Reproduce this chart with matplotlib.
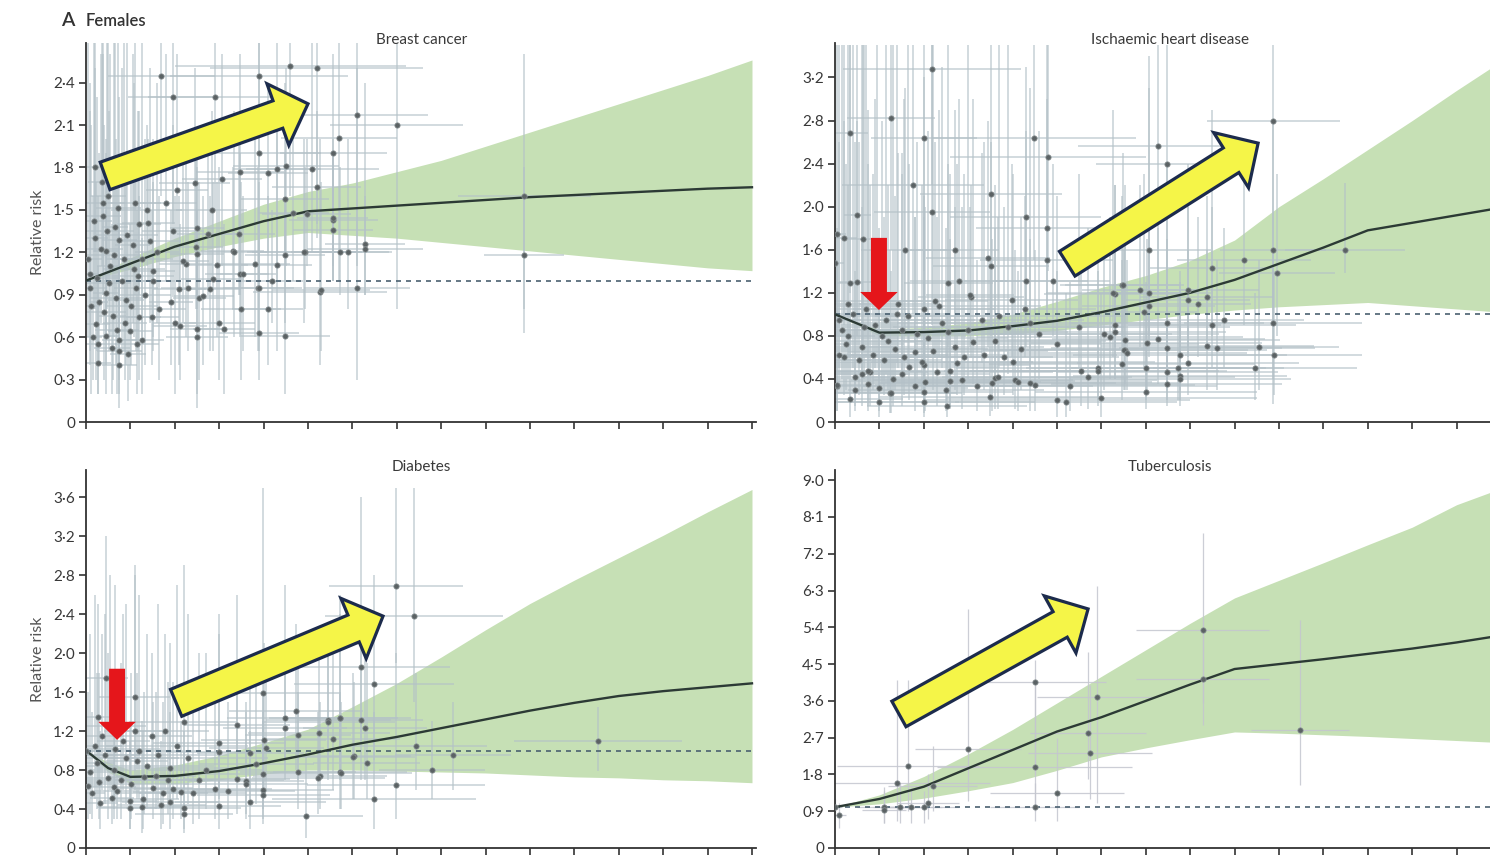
import numpy as np
import matplotlib
matplotlib.use("Agg")
import matplotlib.pyplot as plt
from matplotlib.patches import FancyArrowPatch, ArrowStyle

plt.rcParams['font.family'] = ['Lato', 'DejaVu Sans']

# study estimates: x, relative risk, x half-width, lower CI, upper CI
bc_rows = [
    (0.39, 1.46, 0.4, 0.9, 2.6), (0.73, 1.51, 0.5, 1.0, 2.7), (1.10, 1.55, 0.6, 0.9, 2.7),
    (1.37, 1.50, 0.8, 1.1, 2.1), (1.70, 2.45, 1.2, 1.6, 2.7), (1.95, 2.30, 1.0, 1.4, 2.7),
    (2.90, 2.30, 1.5, 1.5, 2.7), (3.90, 2.45, 2.0, 1.8, 2.7), (4.60, 2.52, 2.6, 1.6, 2.7),
    (5.20, 2.50, 2.4, 1.4, 2.7), (6.10, 2.17, 1.6, 1.1, 2.7), (7.00, 2.10, 1.5, 0.8, 2.7),
    (5.70, 2.01, 1.3, 1.0, 2.7), (5.57, 1.90, 1.2, 1.0, 2.6), (3.90, 1.90, 1.4, 1.0, 2.7),
    (3.47, 1.77, 1.0, 0.9, 2.6), (5.10, 1.79, 1.5, 1.2, 2.7), (4.50, 1.81, 1.2, 1.1, 2.5),
    (4.30, 1.79, 1.0, 1.0, 2.7), (4.10, 1.76, 0.9, 1.2, 2.4), (3.06, 1.72, 0.9, 1.1, 2.6),
    (5.20, 1.66, 1.0, 1.3, 2.2), (2.45, 1.69, 0.8, 1.2, 2.5), (2.05, 1.64, 0.7, 1.0, 2.6),
    (0.45, 1.21, 0.3, 0.6, 1.9), (2.83, 1.50, 0.8, 1.0, 2.2), (4.48, 1.58, 1.0, 1.2, 2.4),
    (5.57, 1.43, 1.0, 1.1, 1.9), (5.57, 1.36, 0.9, 1.0, 1.9), (4.97, 1.47, 1.0, 1.1, 2.0),
    (4.67, 1.48, 0.8, 1.0, 2.1), (4.93, 1.20, 1.2, 0.8, 1.8), (5.72, 1.20, 1.1, 0.9, 1.8),
    (5.90, 1.20, 1.0, 0.8, 2.0), (6.28, 1.26, 0.9, 0.9, 2.4), (6.28, 1.22, 1.3, 0.9, 1.6),
    (4.48, 1.18, 0.9, 0.7, 1.9), (4.30, 1.11, 0.8, 0.5, 2.2), (3.80, 1.12, 0.8, 0.6, 2.0),
    (4.19, 1.00, 0.7, 0.7, 1.5), (3.87, 0.95, 1.0, 0.5, 1.8), (5.27, 0.92, 1.5, 0.4, 2.0),
    (6.10, 0.95, 1.2, 0.3, 2.5), (3.30, 1.21, 0.7, 0.8, 1.8), (1.40, 1.41, 0.6, 1.0, 2.0),
    (1.95, 1.35, 0.7, 0.9, 2.1), (2.50, 1.37, 0.6, 0.9, 1.9), (3.45, 1.33, 0.8, 0.9, 2.0),
    (2.75, 1.33, 0.7, 0.9, 2.1), (2.50, 1.19, 0.6, 0.8, 1.8), (2.25, 1.12, 0.6, 0.6, 2.0),
    (2.95, 1.11, 0.7, 0.6, 1.7), (3.47, 1.05, 0.8, 0.6, 1.9), (1.50, 1.00, 0.5, 0.5, 1.7),
    (2.10, 0.94, 0.6, 0.4, 1.6), (2.55, 0.88, 0.6, 0.3, 1.7), (5.29, 0.93, 1.1, 0.5, 1.7),
    (4.49, 0.61, 1.0, 0.2, 1.5), (3.89, 0.63, 0.9, 0.3, 1.4), (4.09, 0.80, 0.8, 0.4, 1.6),
    (3.49, 0.80, 0.9, 0.3, 1.7), (3.89, 0.95, 0.8, 0.5, 1.7), (4.92, 1.20, 1.3, 0.7, 2.0),
    (3.33, 1.20, 0.8, 0.6, 2.2), (3.53, 1.05, 0.6, 0.5, 1.6), (3.10, 0.66, 0.7, 0.2, 1.4),
    (3.00, 0.70, 0.8, 0.3, 1.8), (2.50, 0.66, 0.6, 0.1, 1.5), (2.50, 0.60, 0.7, 0.2, 1.3),
    (2.12, 0.68, 0.6, 0.3, 1.4), (2.00, 0.70, 0.5, 0.2, 1.6), (1.26, 0.58, 0.5, 0.2, 1.3),
    (0.75, 0.40, 0.4, 0.1, 1.2), (0.26, 0.42, 0.3, 0.2, 1.1), (0.75, 0.50, 0.5, 0.2, 1.5),
    (0.75, 0.58, 0.4, 0.3, 1.4), (1.20, 0.74, 0.5, 0.3, 1.6), (1.49, 0.74, 0.6, 0.4, 1.5),
    (1.00, 0.64, 0.5, 0.3, 1.4), (0.45, 0.61, 0.3, 0.2, 1.5), (0.23, 0.69, 0.3, 0.3, 1.7),
    (2.63, 0.89, 0.7, 0.4, 1.6), (2.29, 0.95, 0.6, 0.5, 1.7), (2.80, 0.94, 0.7, 0.5, 1.6),
    (1.91, 0.85, 0.5, 0.4, 1.5), (1.65, 0.80, 0.6, 0.3, 1.6), (0.90, 0.86, 0.4, 0.4, 1.9),
    (1.13, 0.95, 0.5, 0.5, 1.8), (0.45, 0.91, 0.3, 0.4, 2.0), (1.20, 1.40, 0.5, 0.9, 2.2),
    (0.75, 1.29, 0.4, 0.7, 2.3), (2.18, 1.14, 0.6, 0.7, 1.9), (1.50, 1.07, 0.5, 0.6, 2.0),
    (2.48, 1.24, 0.6, 0.8, 1.9), (2.85, 1.01, 0.7, 0.5, 1.7), (5.56, 1.44, 0.8, 1.0, 2.0),
    (9.87, 1.60, 1.5, 0.63, 2.6), (9.87, 1.18, 0.9, 0.8, 1.8), (0.10, 1.05, 0.2, 0.5, 2.2),
    (0.20, 1.30, 0.3, 0.8, 2.5), (0.30, 0.85, 0.2, 0.4, 1.9), (0.55, 1.10, 0.3, 0.6, 2.6),
    (0.60, 0.75, 0.3, 0.3, 1.7), (0.15, 0.60, 0.2, 0.3, 1.6), (0.35, 1.70, 0.3, 1.1, 2.7),
    (0.65, 1.38, 0.3, 0.9, 2.7), (0.85, 1.15, 0.4, 0.5, 2.7), (0.95, 0.48, 0.4, 0.15, 1.3),
    (1.05, 1.25, 0.4, 0.7, 2.6), (0.12, 0.82, 0.2, 0.2, 2.1), (0.50, 1.60, 0.4, 1.0, 2.7),
    (1.60, 1.20, 0.5, 0.7, 2.4), (1.80, 1.55, 0.7, 1.0, 2.6), (0.20, 1.80, 0.3, 1.2, 2.7),
    (0.05, 1.15, 0.3, 0.6, 2.7), (0.08, 0.95, 0.4, 0.4, 2.4), (0.18, 1.42, 0.4, 0.8, 2.7),
    (0.25, 1.02, 0.5, 0.5, 2.3), (0.28, 0.55, 0.4, 0.2, 1.6), (0.33, 1.22, 0.5, 0.7, 2.6),
    (0.40, 0.78, 0.5, 0.3, 2.1), (0.48, 1.35, 0.6, 0.8, 2.7), (0.52, 0.98, 0.5, 0.5, 2.2),
    (0.58, 0.52, 0.4, 0.2, 1.4), (0.62, 1.18, 0.6, 0.6, 2.7), (0.68, 0.88, 0.6, 0.4, 2.0),
    (0.80, 1.00, 0.6, 0.5, 2.5), (0.88, 0.70, 0.5, 0.3, 1.8), (0.92, 1.32, 0.7, 0.7, 2.7),
    (1.02, 0.82, 0.6, 0.4, 1.9), (1.08, 1.08, 0.7, 0.6, 2.4), (1.15, 0.55, 0.5, 0.2, 1.5),
    (1.25, 1.15, 0.7, 0.6, 2.7), (1.32, 0.90, 0.6, 0.4, 2.0), (1.45, 1.28, 0.7, 0.7, 2.5),
    (0.38, 1.55, 0.5, 0.9, 2.7), (0.70, 0.65, 0.5, 0.2, 1.7), (1.18, 1.03, 0.8, 0.5, 2.2),
]

ihd_rows = [
    (2.18, 3.28, 2.0, 2.2, 3.5), (0.34, 2.68, 0.4, 1.2, 3.5), (1.26, 2.82, 1.0, 1.6, 3.5),
    (2.00, 2.64, 1.2, 1.4, 3.5), (1.76, 2.20, 1.6, 1.0, 3.5), (0.50, 1.92, 0.3, 0.8, 3.5),
    (2.18, 1.95, 1.3, 0.9, 3.5), (4.48, 2.64, 2.3, 1.5, 3.5), (4.80, 2.46, 2.2, 1.4, 3.5),
    (3.51, 2.12, 1.6, 0.9, 3.5), (4.30, 1.90, 1.7, 1.0, 3.3), (4.77, 1.80, 1.6, 1.0, 3.5),
    (4.77, 1.50, 1.5, 0.9, 3.0), (0.63, 1.70, 0.5, 0.7, 3.5), (1.58, 1.60, 1.0, 0.8, 3.1),
    (2.70, 1.60, 1.0, 0.9, 2.9), (0.00, 1.48, 0.2, 0.7, 3.5), (0.05, 1.75, 0.2, 0.8, 3.5),
    (0.20, 1.71, 0.3, 0.9, 3.5), (3.51, 1.45, 1.3, 0.8, 2.6), (3.45, 1.52, 1.4, 0.7, 2.8),
    (2.55, 1.29, 1.0, 0.7, 2.4), (2.80, 1.31, 1.1, 0.8, 3.0), (0.50, 1.30, 0.4, 0.6, 2.8),
    (4.30, 1.31, 1.4, 0.7, 2.7), (4.90, 1.31, 1.3, 0.8, 2.4), (3.06, 1.16, 1.2, 0.6, 2.2),
    (3.98, 1.13, 1.5, 0.6, 2.4), (4.28, 1.05, 1.6, 0.6, 2.1), (2.25, 1.12, 1.2, 0.6, 2.6),
    (3.04, 1.18, 1.0, 0.7, 2.0), (1.43, 1.10, 0.9, 0.5, 2.5), (0.34, 1.29, 0.3, 0.6, 3.5),
    (6.46, 1.27, 1.4, 0.8, 2.1), (6.30, 1.19, 1.6, 0.7, 2.2),
    (0.05, 0.33, 1.0, 0.1, 1.5), (0.34, 0.21, 1.2, 0.05, 1.1), (0.45, 0.30, 1.5, 0.1, 1.4),
    (1.00, 0.19, 1.8, 0.05, 1.2), (1.24, 0.27, 1.5, 0.08, 1.6), (1.00, 0.32, 2.0, 0.1, 1.8),
    (2.00, 0.19, 2.5, 0.05, 1.3), (2.52, 0.15, 1.8, 0.05, 1.0), (3.49, 0.23, 2.5, 0.06, 1.5),
    (5.00, 0.20, 3.0, 0.05, 1.4), (5.20, 0.19, 2.5, 0.05, 1.2), (1.80, 0.33, 2.2, 0.1, 1.9),
    (2.03, 0.37, 2.6, 0.1, 2.0), (2.60, 0.38, 2.8, 0.12, 1.7), (0.79, 0.46, 1.3, 0.15, 2.2),
    (1.67, 0.51, 2.0, 0.2, 2.4), (2.00, 0.53, 2.4, 0.2, 2.1), (2.30, 0.46, 2.6, 0.15, 1.9),
    (2.58, 0.47, 2.9, 0.15, 2.3), (3.60, 0.41, 3.0, 0.12, 1.8), (4.05, 0.39, 3.2, 0.12, 1.6),
    (4.40, 0.36, 3.4, 0.1, 1.7), (0.45, 0.42, 0.9, 0.15, 2.6), (0.60, 0.45, 1.1, 0.15, 3.5),
    (6.46, 0.54, 3.0, 0.2, 1.5), (5.93, 0.50, 3.2, 0.2, 1.6), (5.93, 0.47, 2.9, 0.15, 1.4),
    (5.55, 0.47, 3.1, 0.15, 1.5), (5.30, 0.33, 3.3, 0.1, 1.3), (6.00, 0.22, 3.5, 0.05, 1.2),
    (4.50, 0.34, 3.6, 0.1, 1.6), (4.13, 0.37, 3.0, 0.1, 1.4), (3.53, 0.36, 2.8, 0.1, 1.7),
    (3.20, 0.33, 2.6, 0.1, 1.5), (2.50, 0.30, 2.2, 0.1, 1.8), (2.00, 0.28, 2.0, 0.08, 1.9),
    (1.26, 0.27, 1.6, 0.08, 1.4), (0.04, 0.34, 0.8, 0.1, 1.8), (1.50, 0.45, 2.0, 0.15, 2.3),
    (0.75, 0.47, 1.2, 0.15, 2.4), (2.85, 0.39, 2.5, 0.12, 2.0), (3.68, 0.42, 3.0, 0.12, 1.9),
    (5.70, 0.42, 3.3, 0.12, 1.8),
    (0.10, 0.95, 0.5, 0.5, 2.6), (0.30, 0.80, 0.6, 0.4, 2.2), (0.60, 0.70, 0.8, 0.3, 2.0),
    (0.90, 0.90, 0.9, 0.5, 3.0), (1.20, 0.75, 1.2, 0.3, 2.2), (1.50, 0.85, 1.4, 0.4, 2.5),
    (1.80, 0.65, 1.5, 0.3, 1.9), (2.10, 0.78, 1.8, 0.35, 2.7), (2.40, 0.92, 1.9, 0.5, 3.3),
    (2.70, 0.70, 2.0, 0.3, 2.0), (3.00, 0.85, 2.2, 0.4, 3.5), (3.30, 0.95, 2.3, 0.55, 2.5),
    (3.60, 0.75, 2.5, 0.35, 2.2), (3.90, 0.88, 2.6, 0.45, 3.5), (4.20, 0.68, 2.8, 0.3, 1.9),
    (4.60, 0.82, 3.0, 0.4, 2.7), (5.00, 0.72, 3.2, 0.35, 2.1), (5.50, 0.88, 3.4, 0.5, 2.3),
    (6.20, 0.79, 3.0, 0.4, 1.9), (6.53, 0.76, 3.5, 0.35, 2.2), (6.53, 0.67, 3.2, 0.3, 1.8),
    (0.20, 0.60, 0.7, 0.25, 2.8), (0.70, 1.05, 0.9, 0.6, 3.5), (1.40, 1.00, 1.2, 0.55, 3.5),
    (2.00, 1.05, 1.6, 0.6, 3.2), (1.10, 0.58, 1.3, 0.25, 1.9), (2.90, 0.60, 2.0, 0.25, 2.3),
    (3.80, 0.60, 2.6, 0.25, 2.0),
    (0.08, 0.62, 0.9, 0.3, 3.5), (0.15, 0.85, 1.1, 0.4, 3.5), (0.25, 0.72, 1.3, 0.3, 2.4),
    (0.40, 1.00, 1.2, 0.5, 3.5), (0.55, 0.58, 1.5, 0.25, 2.6), (0.65, 0.88, 1.6, 0.4, 3.5),
    (0.85, 0.62, 1.7, 0.3, 2.3), (0.95, 1.12, 1.4, 0.6, 3.5), (1.05, 0.80, 1.9, 0.35, 2.8),
    (1.15, 0.95, 2.0, 0.45, 3.5), (1.35, 0.68, 2.1, 0.3, 2.1), (1.55, 0.60, 2.3, 0.25, 3.0),
    (1.65, 0.98, 2.2, 0.5, 3.5), (1.85, 0.82, 2.4, 0.4, 2.6), (1.95, 0.56, 2.5, 0.25, 2.2),
    (2.20, 0.66, 2.6, 0.3, 3.5), (2.35, 1.08, 2.3, 0.6, 2.9), (2.55, 0.84, 2.7, 0.4, 3.5),
    (2.75, 0.55, 2.8, 0.25, 2.4), (3.10, 0.74, 2.9, 0.35, 3.0), (3.35, 0.62, 3.0, 0.3, 2.6),
    (3.70, 0.98, 2.8, 0.5, 3.5), (4.00, 0.56, 3.2, 0.25, 2.3), (4.40, 0.92, 3.0, 0.5, 3.1),
    (0.30, 1.10, 0.8, 0.6, 3.5), (0.75, 0.35, 1.8, 0.1, 2.9), (1.30, 0.40, 2.2, 0.15, 3.5),
    (9.87, 2.80, 1.5, 0.17, 3.5), (7.28, 2.56, 1.8, 1.2, 3.5), (7.47, 2.40, 1.6, 1.1, 3.5),
    (7.07, 1.60, 1.4, 0.8, 3.4), (9.87, 1.60, 1.2, 0.9, 2.8), (11.49, 1.60, 1.35, 1.38, 2.22),
    (9.21, 1.50, 1.5, 0.9, 2.6), (8.49, 1.43, 1.4, 0.8, 2.9), (9.96, 1.38, 1.3, 0.8, 2.3),
    (7.95, 1.23, 1.6, 0.7, 2.4), (8.38, 1.16, 1.5, 0.7, 2.1), (7.95, 1.13, 1.4, 0.6, 2.0),
    (8.18, 1.10, 1.2, 0.6, 1.9), (6.48, 1.27, 1.3, 0.7, 2.5), (6.26, 1.20, 1.5, 0.6, 2.9),
    (6.87, 1.23, 1.3, 0.7, 2.2), (7.07, 1.20, 1.4, 0.7, 3.1), (7.07, 1.08, 1.5, 0.6, 2.0),
    (6.96, 1.02, 1.2, 0.5, 2.3), (8.76, 0.95, 1.8, 0.5, 1.8), (8.49, 0.90, 1.9, 0.5, 2.0),
    (9.87, 0.92, 2.0, 0.4, 1.6), (7.47, 0.92, 2.2, 0.4, 2.4), (6.30, 0.90, 2.4, 0.4, 2.2),
    (6.30, 0.84, 2.5, 0.4, 1.9), (6.06, 0.82, 2.6, 0.3, 1.7), (6.50, 0.67, 2.8, 0.3, 1.6),
    (6.57, 0.64, 2.7, 0.3, 1.5), (7.02, 0.73, 2.6, 0.3, 1.7), (7.28, 0.77, 2.4, 0.35, 1.8),
    (7.47, 0.69, 2.6, 0.3, 1.7), (8.38, 0.71, 2.4, 0.3, 1.6), (8.60, 0.69, 2.2, 0.3, 1.5),
    (9.55, 0.70, 1.8, 0.3, 1.5), (9.88, 0.62, 2.0, 0.25, 1.4), (9.46, 0.50, 2.3, 0.2, 1.2),
    (7.47, 0.46, 2.5, 0.2, 1.3), (7.47, 0.35, 2.6, 0.15, 1.1), (7.77, 0.43, 2.4, 0.2, 1.2),
    (7.77, 0.40, 2.5, 0.15, 1.3), (7.77, 0.62, 2.4, 0.3, 1.4), (7.95, 0.55, 2.5, 0.25, 1.6),
    (7.72, 0.50, 2.4, 0.2, 1.2), (7.00, 0.50, 2.7, 0.2, 1.3), (7.00, 0.28, 2.5, 0.12, 1.0),
]

dia_rows = [
    (6.98, 2.69, 1.5, 1.9, 3.7), (6.19, 1.86, 2.0, 1.1, 3.6), (6.49, 1.68, 1.8, 0.9, 2.8),
    (7.39, 2.38, 2.0, 1.5, 3.7), (5.72, 1.33, 1.6, 0.8, 2.6), (6.28, 1.23, 1.4, 0.7, 2.2),
    (6.32, 0.87, 1.2, 0.5, 1.9), (6.03, 0.94, 1.3, 0.5, 1.7), (5.72, 0.78, 1.5, 0.4, 1.6),
    (6.98, 0.65, 2.0, 0.3, 2.0), (6.49, 0.50, 2.3, 0.2, 1.4), (4.95, 0.33, 1.3, 0.1, 1.0),
    (4.73, 1.41, 1.5, 0.8, 2.3), (4.48, 1.33, 1.3, 0.8, 2.7), (4.48, 1.23, 1.4, 0.7, 2.1),
    (4.77, 1.16, 1.2, 0.7, 2.0), (5.25, 1.18, 1.6, 0.7, 2.0), (5.46, 1.31, 1.4, 0.8, 2.2),
    (5.27, 0.74, 1.5, 0.4, 1.5), (4.77, 0.78, 1.3, 0.4, 1.6), (3.99, 1.59, 1.7, 0.9, 3.7),
    (3.40, 1.26, 1.2, 0.7, 2.6), (3.00, 1.08, 1.5, 0.6, 2.2), (3.00, 0.99, 1.2, 0.5, 2.4),
    (4.00, 1.11, 1.4, 0.6, 2.1), (4.06, 1.03, 1.3, 0.6, 1.9), (3.70, 0.98, 1.2, 0.5, 1.9),
    (3.98, 0.76, 1.5, 0.4, 1.6), (3.60, 0.69, 1.3, 0.35, 1.5), (3.60, 0.66, 1.4, 0.3, 1.4),
    (3.40, 0.71, 1.2, 0.35, 1.6), (3.84, 0.86, 1.3, 0.45, 1.7), (3.99, 0.60, 1.6, 0.3, 1.4),
    (3.99, 0.54, 1.5, 0.25, 1.3), (3.70, 0.47, 1.7, 0.2, 1.2), (3.20, 0.58, 1.5, 0.3, 1.5),
    (2.90, 0.61, 1.3, 0.3, 1.7), (3.00, 0.43, 1.4, 0.2, 1.1), (2.20, 1.29, 1.2, 0.7, 2.9),
    (2.15, 0.57, 1.1, 0.3, 1.3), (2.40, 0.56, 1.2, 0.25, 1.5), (2.20, 0.41, 1.3, 0.2, 1.2),
    (2.20, 0.35, 1.1, 0.15, 1.0), (2.70, 0.80, 1.3, 0.4, 2.0), (1.97, 0.61, 1.0, 0.3, 1.7),
    (1.74, 0.56, 1.0, 0.25, 1.5), (1.90, 0.47, 1.1, 0.2, 1.4), (1.10, 1.55, 0.8, 0.9, 2.9),
    (0.45, 1.74, 0.5, 1.0, 3.2), (0.26, 1.34, 0.4, 0.7, 2.5), (0.35, 1.15, 0.5, 0.6, 2.2),
    (0.84, 1.10, 0.6, 0.6, 2.4), (1.10, 1.20, 0.7, 0.6, 2.8), (1.48, 1.15, 0.9, 0.6, 2.0),
    (1.78, 1.20, 1.0, 0.6, 2.2), (0.01, 1.00, 0.2, 0.5, 1.9), (0.24, 0.87, 0.4, 0.4, 1.8),
    (0.62, 0.80, 0.5, 0.4, 1.7), (1.14, 0.89, 0.7, 0.5, 1.8), (1.30, 0.73, 0.8, 0.35, 1.6),
    (1.50, 0.62, 0.9, 0.3, 1.5), (0.99, 0.48, 0.6, 0.2, 1.3), (0.99, 0.41, 0.7, 0.2, 1.1),
    (0.32, 0.46, 0.4, 0.2, 1.2), (0.58, 0.51, 0.5, 0.25, 1.3), (0.13, 0.56, 0.3, 0.3, 1.4),
    (0.05, 0.64, 0.3, 0.3, 1.6), (0.62, 0.63, 0.5, 0.3, 1.5), (0.69, 0.58, 0.5, 0.3, 1.4),
    (1.29, 0.50, 0.8, 0.2, 1.2), (1.70, 0.44, 1.0, 0.2, 1.1), (1.85, 0.70, 1.0, 0.35, 1.7),
    (1.57, 0.74, 0.9, 0.4, 1.6), (7.43, 1.05, 1.6, 0.6, 1.8), (8.27, 0.95, 1.3, 0.6, 1.5),
    (7.79, 0.80, 1.2, 0.5, 1.3), (11.53, 1.10, 1.9, 0.79, 1.45), (5.74, 0.77, 1.6, 0.4, 1.5),
    (5.23, 0.72, 1.5, 0.35, 1.4), (6.02, 0.93, 1.4, 0.5, 1.8), (5.57, 1.12, 1.5, 0.6, 2.0),
    (5.46, 1.29, 1.5, 0.7, 2.3), (5.73, 1.33, 1.3, 0.7, 2.4), (6.19, 1.31, 1.4, 0.7, 2.2),
    (0.10, 0.78, 0.5, 0.35, 2.2), (0.20, 1.05, 0.6, 0.5, 2.6), (0.30, 0.68, 0.7, 0.3, 1.8),
    (0.42, 0.95, 0.8, 0.45, 2.4), (0.50, 0.72, 0.9, 0.3, 2.0), (0.66, 1.02, 1.0, 0.5, 2.7),
    (0.78, 0.70, 1.1, 0.3, 1.9), (0.90, 0.92, 1.2, 0.45, 2.5), (1.02, 0.66, 1.3, 0.3, 1.8),
    (1.20, 1.00, 1.4, 0.5, 2.6), (1.38, 0.84, 1.5, 0.4, 2.2), (1.62, 0.95, 1.6, 0.45, 2.5),
    (1.90, 0.82, 1.7, 0.4, 2.1), (2.30, 0.92, 1.8, 0.45, 2.4), (2.55, 0.70, 1.9, 0.3, 2.0),
    (0.55, 1.25, 0.8, 0.6, 2.8), (1.25, 0.42, 1.0, 0.15, 1.3), (2.05, 1.05, 1.6, 0.5, 2.7),
]

tb_rows = [
    (0.00, 1.00, 0.15, 0.85, 1.2), (0.09, 0.81, 0.15, 0.5, 1.1), (1.10, 1.00, 0.6, 0.6, 1.5),
    (1.10, 0.94, 0.5, 0.6, 1.4), (1.40, 1.59, 2.1, 0.67, 4.1), (1.65, 2.00, 1.6, 0.9, 4.1),
    (1.46, 1.00, 0.6, 0.6, 1.6), (1.71, 1.00, 0.7, 0.6, 1.5), (2.00, 1.00, 0.8, 0.6, 1.4),
    (2.10, 1.10, 0.7, 0.7, 1.8), (2.20, 1.52, 1.0, 0.9, 2.5), (3.00, 2.42, 1.2, 1.16, 5.85),
    (4.50, 4.06, 1.6, 1.8, 4.6), (4.50, 1.98, 2.2, 0.9, 4.0), (4.50, 1.00, 1.0, 0.66, 1.6),
    (5.00, 1.34, 1.5, 0.66, 2.7), (5.90, 3.69, 1.35, 1.1, 6.4), (5.70, 2.81, 1.3, 1.7, 4.8),
    (5.74, 2.32, 1.4, 1.2, 4.0), (8.28, 5.33, 1.5, 3.55, 7.7), (8.28, 4.13, 1.5, 3.0, 5.6),
    (10.47, 2.89, 1.1, 1.54, 5.58),
]

# fitted relative-risk curves and 95% uncertainty bands
grid = list(range(16))
bc_curve = [1.0, 1.12, 1.24, 1.33, 1.42, 1.49, 1.51, 1.53, 1.55, 1.57, 1.59, 1.605, 1.62, 1.635, 1.65, 1.66]
bc_lo = [1.0, 1.08, 1.17, 1.24, 1.30, 1.34, 1.32, 1.30, 1.27, 1.24, 1.21, 1.18, 1.15, 1.12, 1.09, 1.07]
bc_hi = [1.0, 1.16, 1.30, 1.42, 1.54, 1.63, 1.69, 1.77, 1.85, 1.95, 2.05, 2.15, 2.25, 2.35, 2.45, 2.56]

ihd_curve = [1.0, 0.83, 0.835, 0.85, 0.89, 0.94, 1.02, 1.11, 1.20, 1.32, 1.47, 1.62, 1.78, 1.85, 1.92, 1.99]
ihd_lo = [1.0, 0.80, 0.80, 0.80, 0.82, 0.85, 0.90, 0.95, 1.0, 1.04, 1.07, 1.09, 1.11, 1.08, 1.05, 1.02]
ihd_hi = [1.0, 0.86, 0.88, 0.92, 1.0, 1.12, 1.25, 1.36, 1.50, 1.69, 2.0, 2.26, 2.53, 2.80, 3.08, 3.35]

dia_grid = [0, 0.5] + list(range(1, 16))
dia_curve = [1.0, 0.82, 0.73, 0.74, 0.79, 0.87, 0.96, 1.06, 1.14, 1.23, 1.32, 1.41, 1.49, 1.56, 1.61, 1.65, 1.69]
dia_lo = [1.0, 0.78, 0.66, 0.66, 0.70, 0.76, 0.80, 0.80, 0.79, 0.78, 0.77, 0.75, 0.73, 0.72, 0.70, 0.69, 0.67]
dia_hi = [1.0, 0.88, 0.80, 0.85, 0.95, 1.08, 1.22, 1.45, 1.69, 1.96, 2.24, 2.51, 2.75, 2.98, 3.21, 3.45, 3.68]

tb_curve = [1.0, 1.2, 1.5, 1.95, 2.4, 2.85, 3.2, 3.6, 4.0, 4.38, 4.5, 4.62, 4.75, 4.88, 5.03, 5.2]
tb_lo = [1.0, 1.08, 1.22, 1.4, 1.6, 1.9, 2.23, 2.45, 2.65, 2.84, 2.81, 2.77, 2.73, 2.68, 2.63, 2.58]
tb_hi = [1.0, 1.3, 1.75, 2.3, 2.9, 3.55, 4.2, 4.85, 5.5, 6.12, 6.55, 6.98, 7.42, 7.85, 8.4, 8.8]

GREEN = '#c6e0b5'
BAR = '#b4c1c8'
INK = '#333333'


def fmt_tick(v):
    return '0' if v == 0 else f'{v:.1f}'.replace('.', '\u00b7')


def draw_panel(ax, rows, cx, curve, lo, hi, ymax, ystep, title,
               bar_color=BAR, bar_alpha=0.75, bar_lw=1.1):
    x, y, dx, ylo, yhi = np.array(rows).T
    ax.fill_between(cx, lo, hi, color=GREEN, lw=0, zorder=1)
    ax.errorbar(x, y, xerr=dx, yerr=[y - ylo, yhi - y], fmt='none',
                ecolor=bar_color, elinewidth=bar_lw, alpha=bar_alpha, capsize=0, zorder=2)
    ax.axhline(1.0, color='#4a6070', lw=1.2, dashes=(3, 3), zorder=5)
    ax.plot(cx, curve, color='#2c3a35', lw=1.7, zorder=6)
    ax.scatter(x, y, s=15, c='#5b6264', edgecolors='#8d9597', linewidths=0.5, zorder=7)

    ax.set_xlim(0, 15.1)
    ax.set_ylim(0, ymax)
    ticks = np.arange(0, ymax, ystep)
    ax.set_yticks(ticks)
    ax.set_yticklabels([fmt_tick(round(t, 2)) for t in ticks])
    ax.set_xticks(range(16))
    ax.set_xticklabels([])
    for side in ('top', 'right'):
        ax.spines[side].set_visible(False)
    for side in ('left', 'bottom'):
        ax.spines[side].set_color(INK)
        ax.spines[side].set_linewidth(1.3)
    ax.tick_params(direction='out', length=5, width=1.2, color=INK,
                   labelsize=11, labelcolor='#383838', pad=3)
    ax.text(0.5, 1.008, title, transform=ax.transAxes, ha='center', va='center',
            fontsize=11, color='#3a3a3a')


def big_arrow(ax, tail, tip):
    style = ArrowStyle('Simple', head_length=23, head_width=47, tail_width=21)
    ax.add_patch(FancyArrowPatch(tail, tip, arrowstyle=style, mutation_scale=1,
                                 facecolor='#f5f548', edgecolor='#1c2b4c', lw=2.3,
                                 joinstyle='miter', shrinkA=0, shrinkB=0,
                                 clip_on=False, zorder=10))


def down_arrow(ax, top, tip):
    style = ArrowStyle('Simple', head_length=13, head_width=27, tail_width=11.5)
    ax.add_patch(FancyArrowPatch(top, tip, arrowstyle=style, mutation_scale=1,
                                 facecolor='#e5161b', edgecolor='none', lw=0,
                                 shrinkA=0, shrinkB=0, clip_on=False, zorder=10))


fig = plt.figure(figsize=(14.9, 8.59), dpi=100)
W = 0.44995
ax_bc = fig.add_axes([0.05772, 0.50873, W, 0.44121])
ax_ihd = fig.add_axes([0.56040, 0.50873, W, 0.44121])
ax_dia = fig.add_axes([0.05772, 0.012806, W, 0.44005])
ax_tb = fig.add_axes([0.56040, 0.012806, W, 0.44005])

draw_panel(ax_bc, bc_rows, grid, bc_curve, bc_lo, bc_hi, 2.68, 0.3, 'Breast cancer')
draw_panel(ax_ihd, ihd_rows, grid, ihd_curve, ihd_lo, ihd_hi, 3.52, 0.4, 'Ischaemic heart disease')
draw_panel(ax_dia, dia_rows, dia_grid, dia_curve, dia_lo, dia_hi, 3.88, 0.4, 'Diabetes')
draw_panel(ax_tb, tb_rows, grid, tb_curve, tb_lo, tb_hi, 9.25, 0.9, 'Tuberculosis',
           bar_color='#c4c6cf', bar_alpha=0.85, bar_lw=0.9)

for ax in (ax_bc, ax_dia):
    ax.set_ylabel('Relative risk', fontsize=11.5, color='#555555', labelpad=6)

big_arrow(ax_bc, (0.43, 1.74), (5.0, 2.25))
big_arrow(ax_ihd, (5.23, 1.47), (9.53, 2.59))
big_arrow(ax_dia, (2.03, 1.49), (6.69, 2.38))
big_arrow(ax_tb, (1.44, 3.28), (5.70, 5.85))
down_arrow(ax_ihd, (0.99, 1.71), (0.99, 1.04))
down_arrow(ax_dia, (0.70, 1.84), (0.70, 1.11))

fig.text(61 / 1490, 1 - 20 / 859, 'A', fontsize=14, fontweight='semibold',
         color='#333333', va='center')
fig.text(86 / 1490, 1 - 21 / 859, 'Females', fontsize=12, fontweight='semibold',
         color='#333333', va='center')

fig.savefig('out.png', dpi=100)
